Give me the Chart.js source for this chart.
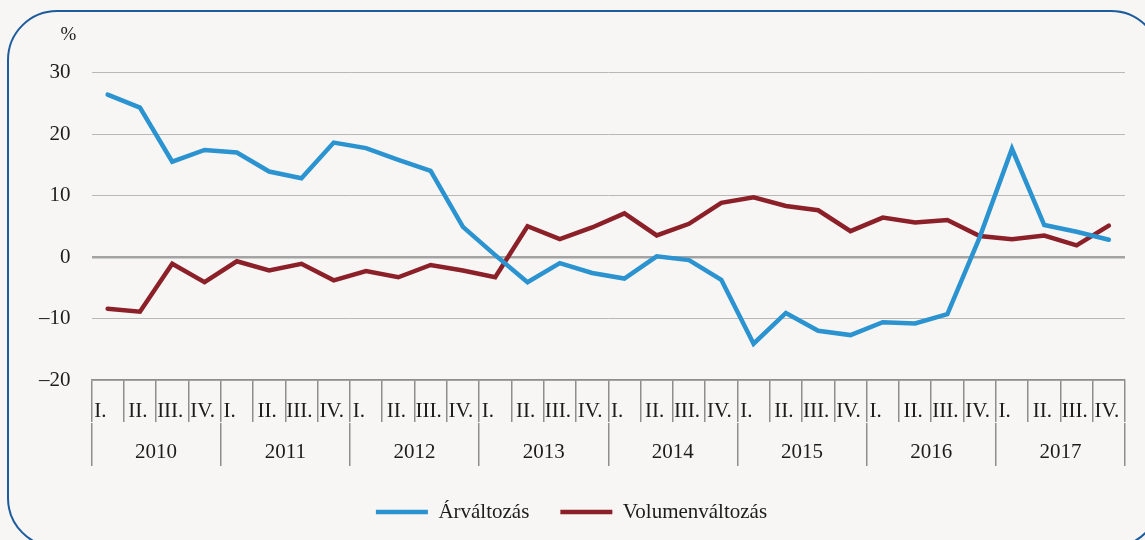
<!DOCTYPE html>
<html>
<head>
<meta charset="utf-8">
<script src="https://cdn.jsdelivr.net/npm/chart.js@4/dist/chart.umd.min.js"></script>
<style>
  body { margin: 0; background: #f7f6f4; overflow: hidden; }
  #wrap { position: relative; width: 1145px; height: 540px; }
  #frame {
    position: absolute; left: 7px; top: 10px; width: 1150px; height: 534px;
    border: 2px solid #1d5c9c; border-radius: 50px;
  }
  #chart { position: absolute; left: 0; top: 0; }
</style>
</head>
<body>
<div id="wrap">
  <div id="frame"></div>
  <canvas id="chart" width="1145" height="540"></canvas>
</div>
<script>
const years = ["2010", "2011", "2012", "2013", "2014", "2015", "2016", "2017"];
const quarterNames = ["I.", "II.", "III.", "IV."];
const quarters = years.flatMap(() => quarterNames);

const arValtozas = [
  26.4, 24.3, 15.5, 17.4, 17.0, 13.9, 12.8, 18.6,
  17.7, 15.8, 14.0, 4.9, 0.3, -4.1, -1.0, -2.6,
  -3.5, 0.1, -0.5, -3.7, -14.1, -9.1, -12.0, -12.7,
  -10.6, -10.8, -9.3, 3.2, 17.6, 5.2, 4.1, 2.8,
];
const volumenValtozas = [
  -8.4, -8.9, -1.1, -4.1, -0.7, -2.2, -1.1, -3.8,
  -2.3, -3.3, -1.3, -2.2, -3.3, 5.0, 2.9, 4.8,
  7.1, 3.5, 5.4, 8.8, 9.7, 8.3, 7.6, 4.2,
  6.4, 5.6, 6.0, 3.4, 2.9, 3.5, 1.9, 5.1,
];

const serif = "'Liberation Serif', 'DejaVu Serif', serif";
const textColor = "#1c1c1c";
const tableColor = "#8e8e8e";

Chart.defaults.font.family = serif;
Chart.defaults.font.size = 21;
Chart.defaults.color = textColor;

// "%" unit label above the y axis
const unitLabel = {
  id: "unitLabel",
  afterDraw(chart) {
    const { ctx, scales } = chart;
    ctx.save();
    ctx.font = "19px " + serif;
    ctx.fillStyle = textColor;
    ctx.textAlign = "center";
    ctx.textBaseline = "middle";
    ctx.fillText("%", scales.y.right - 23, 35);
    ctx.restore();
  },
};

// empty axis title, only used to give an axis its height
const spacer = (h) => ({
  display: true,
  text: "",
  padding: 0,
  font: { size: 10, lineHeight: h / 10 },
});

new Chart(document.getElementById("chart"), {
  type: "line",
  plugins: [unitLabel],
  data: {
    labels: quarters,
    datasets: [
      {
        label: "Árváltozás",
        data: arValtozas,
        borderColor: "#2a93d0",
        backgroundColor: "#2a93d0",
        borderWidth: 4.5,
        borderCapStyle: "round",
        pointRadius: 0,
        pointStyle: "line",
        tension: 0,
      },
      {
        label: "Volumenváltozás",
        data: volumenValtozas,
        borderColor: "#8c2029",
        backgroundColor: "#8c2029",
        borderWidth: 4.5,
        borderCapStyle: "round",
        pointRadius: 0,
        pointStyle: "line",
        tension: 0,
      },
    ],
  },
  options: {
    responsive: false,
    animation: false,
    layout: { padding: { left: 18, right: 20, top: 72.5, bottom: 7.5 } },
    plugins: {
      tooltip: { enabled: false },
      legend: {
        position: "bottom",
        labels: {
          usePointStyle: true,
          pointStyleWidth: 52,
          padding: 31,
          color: textColor,
          font: { size: 21 },
        },
      },
    },
    scales: {
      y: {
        min: -20,
        max: 30,
        ticks: {
          stepSize: 10,
          padding: 21,
          callback: (v) => String(v).replace("-", "\u2013"),
        },
        grid: {
          drawTicks: false,
          color: (c) => (c.tick.value === 0 ? "#a3a3a3" : "#b8b8b8"),
          lineWidth: (c) => (c.tick.value === 0 ? 2.5 : 1),
        },
        border: { display: false },
      },
      x: {
        position: "bottom",
        offset: true,
        ticks: {
          autoSkip: false,
          maxRotation: 0,
          padding: -23.6,
          labelOffset: -2,
          callback: (v, i) => (quarters[i] === "I." ? "I.\u2002" : quarters[i]),
        },
        grid: {
          offset: true,
          drawOnChartArea: false,
          tickLength: 42,
          color: tableColor,
          lineWidth: 1.5,
        },
        border: { display: true, color: tableColor, width: 1.5 },
        title: spacer(23),
      },
      x2: {
        type: "category",
        labels: years,
        position: "bottom",
        offset: true,
        ticks: {
          autoSkip: false,
          maxRotation: 0,
          padding: -26.6,
        },
        grid: {
          offset: true,
          drawOnChartArea: false,
          tickLength: 43,
          color: tableColor,
          lineWidth: 1.5,
        },
        border: { display: false },
        title: spacer(32.5),
      },
    },
  },
});
</script>
</body>
</html>
